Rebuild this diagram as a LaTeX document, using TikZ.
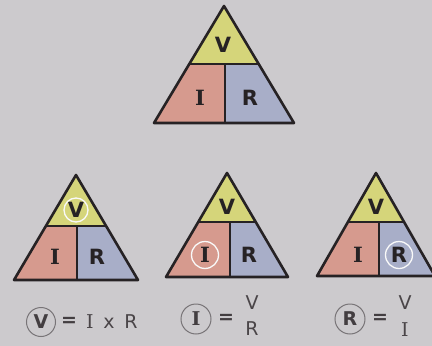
\documentclass[tikz,border=0pt]{standalone}
\usepackage{fontspec}
\setmainfont{DejaVu Sans}
\newfontfamily\slabfont{DejaVu Serif}
\definecolor{bgc}{HTML}{CCCACD}
\definecolor{yel}{HTML}{D5D57A}
\definecolor{pnk}{HTML}{D69A8E}
\definecolor{blu}{HTML}{A8AEC8}
\definecolor{ink}{HTML}{262224}
\definecolor{ftxt}{HTML}{4A4548}
\tikzset{
  edge/.style={draw=ink, line width=2.6pt, line join=round},
  divline/.style={draw=ink, line width=2.2pt},
  letter/.style={font=\bfseries\fontsize{21}{21}\selectfont, text=ink, inner sep=0pt},
  iletter/.style={font=\slabfont\bfseries\fontsize{21}{21}\selectfont, text=ink, inner sep=0pt},
  ring/.style={draw=white!88!bgc, line width=1.3pt},
  ftext/.style={font=\fontsize{19}{19}\selectfont, text=ftxt, inner sep=0pt},
  fitext/.style={font=\slabfont\fontsize{19}{19}\selectfont, text=ftxt, inner sep=0pt},
  fbold/.style={font=\bfseries\fontsize{19}{19}\selectfont, text=ftxt!80!ink, inner sep=0pt},
  fibold/.style={font=\slabfont\bfseries\fontsize{19}{19}\selectfont, text=ftxt!80!ink, inner sep=0pt},
  fring/.style={draw=ftxt!65!bgc, line width=1pt},
}
% #1 apex x, #2 apex y, #3 base y, #4 half width, #5 midline y, #6 divider x
\newcommand\ohmtri[6]{%
  \pgfmathsetmacro\hw{#4*(#5-#2)/(#3-#2)}%
  \fill[yel] (#1,#2) -- (#1-\hw,#5) -- (#1+\hw,#5) -- cycle;
  \fill[pnk] (#1-\hw,#5) -- (#6,#5) -- (#6,#3) -- (#1-#4,#3) -- cycle;
  \fill[blu] (#6,#5) -- (#1+\hw,#5) -- (#1+#4,#3) -- (#6,#3) -- cycle;
  \draw[divline] (#1-\hw,#5) -- (#1+\hw,#5);
  \draw[divline] (#6,#5) -- (#6,#3);
  \draw[edge] (#1,#2) -- (#1-#4,#3) -- (#1+#4,#3) -- cycle;
}
\begin{document}
\begin{tikzpicture}[x=1pt,y=-1pt]
\fill[bgc] (0,0) rectangle (432,346);
\useasboundingbox (0,0) rectangle (432,346);
% top triangle
\ohmtri{224}{6}{123}{70}{64}{225}
\node[letter]  (tV) at (223,45) {V};
\node[iletter] (tI) at (200,98) {I};
\node[letter]  (tR) at (250,98) {R};
% bottom left
\ohmtri{76}{175}{280}{62}{226}{77}
\node[letter]  (aV) at (76,210) {V};
\node[iletter] (aI) at (55,257) {I};
\node[letter]  (aR) at (97,257) {R};
\draw[ring] (aV) circle (12);
% bottom middle
\ohmtri{227}{173}{277}{61}{222}{230}
\node[letter]  (bV) at (227,207) {V};
\node[iletter] (bI) at (205,255) {I};
\node[letter]  (bR) at (249,255) {R};
\draw[ring] (bI) circle (13.5);
% bottom right
\ohmtri{376}{173}{276}{59}{222}{379}
\node[letter]  (cV) at (376,207) {V};
\node[iletter] (cI) at (358,255) {I};
\node[letter]  (cR) at (399,255) {R};
\draw[ring] (cR) circle (13.5);
% formulas
\node[fbold] (fV) at (41,322) {V};
\draw[fring] (fV) circle (14.5);
\node[fbold] (fVeq) at (69,322) {=};
\node[fitext] (fVI) at (90,322) {I};
\node[ftext] (fVx) at (109,323) {x};
\node[ftext] (fVR) at (131,322) {R};
\node[fibold] (fI) at (196,319) {I};
\draw[fring] (fI) circle (15);
\node[fbold] (fIeq) at (226,319) {=};
\node[ftext] (fIn) at (252,303) {V};
\node[ftext] (fId) at (252,329) {R};
\node[fbold] (fR) at (350,319) {R};
\draw[fring] (fR) circle (15);
\node[fbold] (fReq) at (380,319) {=};
\node[ftext] (fRn) at (405,303) {V};
\node[fitext] (fRd) at (405,330) {I};
\end{tikzpicture}
\end{document}
